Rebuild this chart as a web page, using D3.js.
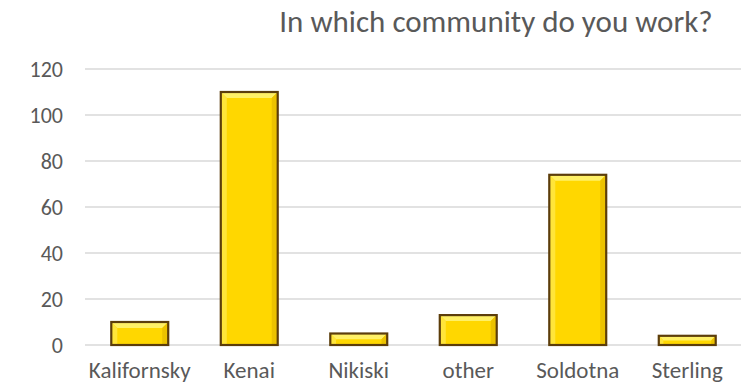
<!DOCTYPE html>
<html>
<head>
<meta charset="utf-8">
<title>Community</title>
<script src="https://cdn.jsdelivr.net/npm/d3@7"></script>
<style>
  body { margin: 0; background: #fff; }
  text { font-family: Calibri, Carlito, Lato, sans-serif; fill: #595959; }
</style>
</head>
<body>
<svg id="svg"></svg>
<script>
var WIDTH = 741, HEIGHT = 391;

// data
var categories = ["Kalifornsky", "Kenai", "Nikiski", "other", "Soldotna", "Sterling"];
var counts = [10, 110, 5, 13, 74, 4];
var yTicks = [0, 20, 40, 60, 80, 100, 120];
var title = "In which community do you work?";

var svg = d3.select("#svg").attr("width", WIDTH).attr("height", HEIGHT);

var x = d3.scaleBand().domain(categories).range([85, 742]).paddingInner(0.48).paddingOuter(0.24);
var y = d3.scaleLinear().domain([0, 120]).range([345, 69]);

// gridlines
svg.selectAll("line.grid").data(yTicks).enter().append("line")
   .attr("class", "grid")
   .attr("x1", 85).attr("x2", 741)
   .attr("y1", function(d){ return y(d); })
   .attr("y2", function(d){ return y(d); })
   .attr("stroke", "#d9d9d9").attr("stroke-width", 1.3);

// y tick labels
svg.selectAll("text.ytick").data(yTicks).enter().append("text")
   .attr("class", "ytick")
   .attr("x", 63)
   .attr("y", function(d){ return y(d); })
   .attr("dy", "0.36em")
   .attr("text-anchor", "end")
   .attr("font-size", "22px")
   .text(function(d){ return d; });

// bars with bevel look
var data = categories.map(function(c, i){ return {cat: c, v: counts[i]}; });
var bw = x.bandwidth();
var bev = 6;

var bars = svg.selectAll("g.bar").data(data).enter().append("g").attr("class", "bar");

bars.append("rect")
    .attr("x", function(d){ return x(d.cat); })
    .attr("y", function(d){ return y(d.v); })
    .attr("width", bw)
    .attr("height", function(d){ return y(0) - y(d.v); })
    .attr("fill", "#ffd700");

// top bevel (light)
bars.append("polygon")
    .attr("points", function(d){
        var x0 = x(d.cat), x1 = x0 + bw, t = y(d.v), b = y(0);
        var bb = Math.min(bev, (b - t) / 2);
        return [[x0, t], [x1, t], [x1 - bb, t + bb], [x0 + bb, t + bb]].join(" ");
    })
    .attr("fill", "#fff066");
// left bevel
bars.append("polygon")
    .attr("points", function(d){
        var x0 = x(d.cat), t = y(d.v), b = y(0);
        var bb = Math.min(bev, (b - t) / 2);
        return [[x0, t], [x0 + bb, t + bb], [x0 + bb, b], [x0, b]].join(" ");
    })
    .attr("fill", "#ffe53a");
// right bevel (dark)
bars.append("polygon")
    .attr("points", function(d){
        var x1 = x(d.cat) + bw, t = y(d.v), b = y(0);
        var bb = Math.min(bev, (b - t) / 2);
        return [[x1, t], [x1 - bb, t + bb], [x1 - bb, b], [x1, b]].join(" ");
    })
    .attr("fill", "#ecc200");

// outline
bars.append("rect")
    .attr("x", function(d){ return x(d.cat); })
    .attr("y", function(d){ return y(d.v); })
    .attr("width", bw)
    .attr("height", function(d){ return y(0) - y(d.v); })
    .attr("fill", "none")
    .attr("stroke", "#5c3d0a")
    .attr("stroke-width", 2.2);

// x labels
svg.selectAll("text.xlab").data(categories).enter().append("text")
   .attr("class", "xlab")
   .attr("x", function(d){ return x(d) + bw / 2; })
   .attr("y", 378)
   .attr("text-anchor", "middle")
   .attr("font-size", "23px")
   .text(function(d){ return d; });

// title
svg.append("text")
   .attr("x", 496).attr("y", 32)
   .attr("text-anchor", "middle")
   .attr("font-size", "31px")
   .text(title);
</script>
</body>
</html>
